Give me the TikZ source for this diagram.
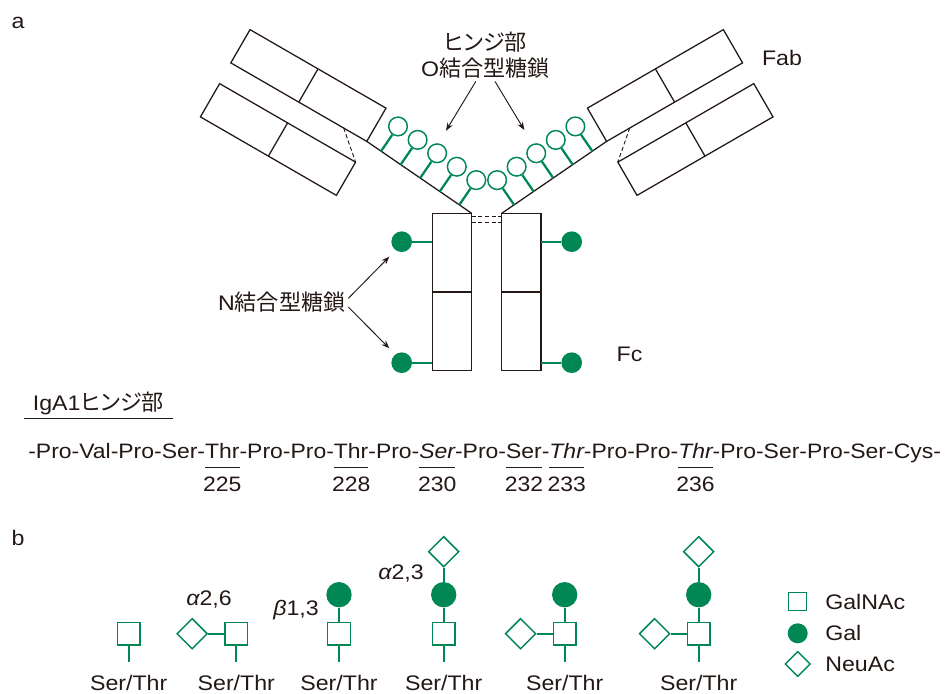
\documentclass[tikz,border=0pt]{standalone}
\usepackage{fontspec}
\setmainfont{Liberation Sans}[FakeStretch=1.1]
\newfontfamily\jp{Noto Sans CJK JP}[Scale=1.05,RawFeature=+palt]
\usetikzlibrary{positioning,calc,arrows.meta,shapes.geometric}

\definecolor{glgreen}{RGB}{0,135,84}
\definecolor{ink}{RGB}{35,24,21}

\tikzset{
  lbl/.style={text=ink, font=\fontsize{15.8}{20}\selectfont, inner sep=2pt},
  seq/.style={text=ink, font=\fontsize{15.65}{19}\selectfont, inner sep=0pt, outer sep=0pt},
  chain/.style={draw=ink, line width=0.95pt},
  ss/.style={draw=ink, line width=0.7pt, dash pattern=on 3pt off 2pt},
  pointer/.style={draw=ink, line width=0.7pt, -{Stealth[length=6pt,width=4.5pt]}},
  uline/.style={draw=ink, line width=0.8pt},
  fab/.style={draw=ink, line width=0.95pt, minimum width=117.75pt, minimum height=28.8pt, inner sep=0pt, outer sep=0pt},
  fc/.style={draw=ink, line width=0.95pt, minimum width=29.55pt, minimum height=118pt, inner sep=0pt, outer sep=0pt},
  bond/.style={draw=glgreen, line width=1.7pt},
  ocirc/.style={circle, draw=glgreen, fill=white, line width=1.1pt, minimum size=14pt, inner sep=0pt},
  nglc/.style={circle, fill=glgreen, minimum size=15.5pt, inner sep=0pt},
  galnac/.style={draw=glgreen, fill=white, line width=1.1pt, minimum size=17pt, inner sep=0pt},
  gal/.style={circle, fill=glgreen, minimum size=19pt, inner sep=0pt},
  neuac/.style={diamond, draw=glgreen, fill=white, line width=1.1pt, minimum size=23pt, inner sep=0pt}
}

\begin{document}
\begin{tikzpicture}[x=0.75pt,y=-0.75pt]
\useasboundingbox (0,0) rectangle (946,693);

% --- a: IgA1 molecule ---
\node (lba) [lbl] at (18,22.5) {a};

\node (fabLh) [fab, rotate=-30] at (308.4,85.5) {};
\node (fabLl) [fab, rotate=-30] at (278,139.5) {};
\node (fabRh) [fab, rotate=30] at (665,85.5) {};
\node (fabRl) [fab, rotate=30] at (695.4,139.5) {};
\foreach \n in {fabLh,fabLl,fabRh,fabRl} \draw[chain] (\n.north) -- (\n.south);

\node (fcL) [fc] at (452,292) {};
\node (fcR) [fc] at (521.4,292) {};
\foreach \n in {fcL,fcR} \draw[chain] (\n.west) -- (\n.east);

% hinge and S-S bonds
\draw[chain] (fabLh.south east) -- (fcL.north east);
\draw[chain] (fabRh.south west) -- (fcR.north west);
\draw[ss] ($(fabLh.south west)!0.83!(fabLh.south east)$) -- (fabLl.north east);
\draw[ss] ($(fabRh.south east)!0.83!(fabRh.south west)$) -- (fabRl.north west);
\draw[ss] ([yshift=-2pt]fcL.north east) -- ([yshift=-2pt]fcR.north west);
\draw[ss] ([yshift=-6.5pt]fcL.north east) -- ([yshift=-6.5pt]fcR.north west);

% O-glycans on the hinge
\foreach \p [count=\i] in {0.136,0.323,0.509,0.696,0.882} {
  \coordinate (oL\i) at ($(fabLh.south east)!\p!(fcL.north east)$);
  \node (ogL\i) [ocirc] at ($(oL\i)!22.5pt!90:(fcL.north east)$) {};
  \draw[bond] (oL\i) -- (ogL\i);
  \coordinate (oR\i) at ($(fabRh.south west)!\p!(fcR.north west)$);
  \node (ogR\i) [ocirc] at ($(oR\i)!22.5pt!-90:(fcR.north west)$) {};
  \draw[bond] (oR\i) -- (ogR\i);
}

% N-glycans on Fc
\node (nL1) [nglc] at (401.7,241.7) {};
\node (nL2) [nglc] at (401.7,362.7) {};
\node (nR1) [nglc] at (571.7,241.7) {};
\node (nR2) [nglc] at (571.7,362.7) {};
\draw[bond] (nL1) -- (nL1 -| fcL.west);
\draw[bond] (nL2) -- (nL2 -| fcL.west);
\draw[bond] (nR1) -- (nR1 -| fcR.east);
\draw[bond] (nR2) -- (nR2 -| fcR.east);

% labels
\node (hlab) [lbl, align=center] at (485.4,55) {{\jp ヒンジ部}\\O{\jp 結合型糖鎖}};
\node (fablab) [lbl] at (782,57.5) {Fab};
\node (fclab) [lbl] at (629.5,354) {Fc};
\node (nlab) [lbl] at (281.7,301.7) {N{\jp 結合型糖鎖}};

\coordinate (hL) at (446,130.7);
\coordinate (hR) at (524.3,130);
\coordinate (nT1) at (389.3,256.7);
\coordinate (nT2) at (389.3,348.3);
\draw[pointer] ([xshift=-7.2pt]hlab.south) -- (hL);
\draw[pointer] ([xshift=7.2pt]hlab.south) -- (hR);
\draw[pointer] ([yshift=2.5pt]nlab.east) -- (nT1);
\draw[pointer] ([yshift=-4pt]nlab.east) -- (nT2);

% hinge sequence
\node (igt) [lbl, inner xsep=6.4pt, anchor=base] at (98.3,410) {IgA1{\jp ヒンジ部}};
\draw[uline] ([yshift=-6.2pt]igt.base west) -- ([yshift=-6.2pt]igt.base east);

\node (q1) [seq, anchor=base west] at (28.3,458.3) {-Pro-Val-Pro-Ser-};
\node (t225) [seq, base right=0pt of q1] {Thr};
\node (q2) [seq, base right=0pt of t225] {-Pro-Pro-};
\node (t228) [seq, base right=0pt of q2] {Thr};
\node (q3) [seq, base right=0pt of t228] {-Pro-};
\node (s230) [seq, base right=0pt of q3] {\itshape Ser};
\node (q4) [seq, base right=0pt of s230] {-Pro-};
\node (s232) [seq, base right=0pt of q4] {Ser};
\node (q5) [seq, base right=0pt of s232] {-};
\node (t233) [seq, base right=0pt of q5] {\itshape Thr};
\node (q6) [seq, base right=0pt of t233] {-Pro-Pro-};
\node (t236) [seq, base right=0pt of q6] {\itshape Thr};
\node (q7) [seq, base right=0pt of t236] {-Pro-Ser-Pro-Ser-Cys-};

\foreach \n/\num in {t225/225,t228/228,s230/230,s232/232,t233/233,t236/236} {
  \draw[uline] ([yshift=-6.75pt]\n.base west) -- ([yshift=-6.75pt]\n.base east);
  \node (n\num) [seq, anchor=base] at ([yshift=-25pt]\n.base) {\num};
}

% --- b: O-glycan structures ---
\node (lbb) [lbl] at (18,538) {b};

\node (g1) [galnac] at (128.7,633.7) {};

\node (g2) [galnac] at (236.3,633.7) {};
\node (n2) [neuac, left=12pt of g2] {};
\draw[bond] (n2) -- (g2);

\node (g3) [galnac] at (339,633.7) {};
\node (c3) [gal, above=10.5pt of g3] {};
\draw[bond] (g3) -- (c3);

\node (g4) [galnac] at (443.7,633.7) {};
\node (c4) [gal, above=10.5pt of g4] {};
\node (n4) [neuac, above=10.5pt of c4] {};
\draw[bond] (g4) -- (c4) -- (n4);

\node (g5) [galnac] at (564.7,633.7) {};
\node (c5) [gal, above=10.5pt of g5] {};
\node (n5) [neuac, left=12pt of g5] {};
\draw[bond] (g5) -- (c5);
\draw[bond] (n5) -- (g5);

\node (g6) [galnac] at (698.7,633.7) {};
\node (c6) [gal, above=10.5pt of g6] {};
\node (n6a) [neuac, above=10.5pt of c6] {};
\node (n6) [neuac, left=12pt of g6] {};
\draw[bond] (g6) -- (c6) -- (n6a);
\draw[bond] (n6) -- (g6);

\foreach \g [count=\i] in {g1,g2,g3,g4,g5,g6} {
  \draw[bond] (\g.south) -- ++(0,16);
  \node (st\i) [lbl, inner sep=0pt, anchor=base] at ([yshift=-33.5pt]\g.south) {Ser/Thr};
}

\node (a26) [lbl] at (209,599) {{\itshape α}2,6};
\node (b13) [lbl] at (296,610) {{\itshape β}1,3};
\node (a23) [lbl] at (401,573) {{\itshape α}2,3};

% legend
\node (lg1) [galnac, minimum size=13.5pt] at (797.7,601.7) {};
\node (lg2) [gal, minimum size=15pt] at (797.7,633.3) {};
\node (lg3) [neuac, minimum size=19pt] at (797.7,664) {};
\node (lt1) [lbl, inner sep=0pt, right=20.5pt of lg1.center] {GalNAc};
\node (lt2) [lbl, inner sep=0pt, right=20.5pt of lg2.center] {Gal};
\node (lt3) [lbl, inner sep=0pt, right=20.5pt of lg3.center] {NeuAc};
\end{tikzpicture}
\end{document}
